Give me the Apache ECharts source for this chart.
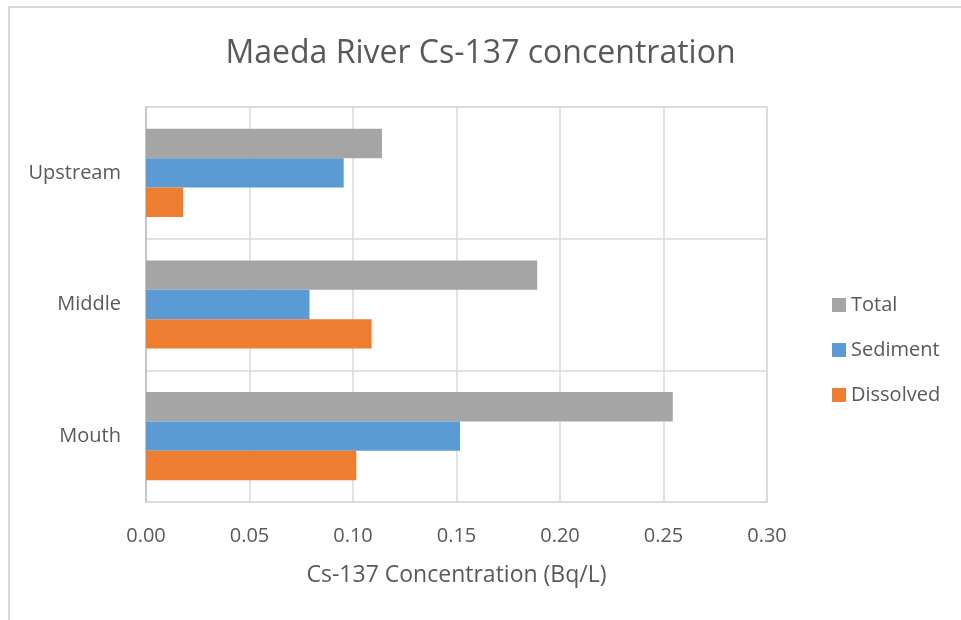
<!DOCTYPE html>
<html>
<head>
<meta charset="utf-8">
<script src="https://cdn.jsdelivr.net/npm/echarts@6/dist/echarts.min.js"></script>
<style>
    html, body { margin: 0; padding: 0; background: #fff; }
    #main { width: 961px; height: 620px; }
</style>
</head>
<body>
<div id="main"></div>
<script>
// data
var categories = ['Upstream', 'Middle', 'Mouth'];
var totalValues = [0.114, 0.189, 0.2545];
var sedimentValues = [0.0955, 0.079, 0.1517];
var dissolvedValues = [0.018, 0.109, 0.1016];
var xTicks = [0, 0.05, 0.10, 0.15, 0.20, 0.25, 0.30];

var font = 'Open Sans';
var textColor = '#595959';

var myChart = echarts.init(document.getElementById('main'));
var option = {
    backgroundColor: '#fff',
    animation: false,
    title: {
        text: 'Maeda River Cs-137 concentration',
        left: 'center',
        top: 33,
        textStyle: {
            color: textColor,
            fontFamily: font,
            fontWeight: 'normal',
            fontSize: 32
        }
    },
    // chart frame, cut off at right and bottom like the picture
    graphic: [{
        type: 'polyline',
        shape: { points: [[9, 640], [9, 7], [980, 7]] },
        style: { stroke: '#d9d9d9', lineWidth: 2, fill: null },
        silent: true
    }],
    legend: {
        orient: 'vertical',
        left: 827,
        top: 290,
        itemWidth: 14,
        itemHeight: 14,
        itemGap: 25,
        icon: 'rect',
        data: ['Total', 'Sediment', 'Dissolved'],
        textStyle: {
            color: textColor,
            fontFamily: font,
            fontSize: 20
        }
    },
    grid: {
        left: 146,
        right: 194,
        top: 107,
        bottom: 118,
        show: true,
        borderColor: '#d9d9d9',
        borderWidth: 1.5
    },
    xAxis: {
        type: 'value',
        min: xTicks[0],
        max: xTicks[xTicks.length - 1],
        interval: 0.05,
        name: 'Cs-137 Concentration (Bq/L)',
        nameLocation: 'middle',
        nameGap: 62,
        nameTextStyle: {
            color: textColor,
            fontFamily: font,
            fontSize: 23
        },
        axisLine: { show: false },
        axisTick: { show: false },
        splitLine: { lineStyle: { color: '#d9d9d9', width: 1.5 } },
        axisLabel: {
            color: textColor,
            fontFamily: font,
            fontSize: 20,
            margin: 24,
            formatter: function (v) { return v.toFixed(2); }
        }
    },
    yAxis: {
        type: 'category',
        inverse: true,
        data: categories,
        axisLine: { lineStyle: { color: '#bfbfbf', width: 1.5 } },
        axisTick: { show: false },
        splitLine: { show: true, lineStyle: { color: '#d9d9d9', width: 1.5 } },
        axisLabel: {
            color: textColor,
            fontFamily: font,
            fontSize: 20,
            margin: 25
        }
    },
    series: [
        {
            name: 'Total',
            type: 'bar',
            data: totalValues,
            barGap: '0%',
            barCategoryGap: '33%',
            itemStyle: { color: '#a5a5a5' }
        },
        {
            name: 'Sediment',
            type: 'bar',
            data: sedimentValues,
            itemStyle: { color: '#5b9bd5' }
        },
        {
            name: 'Dissolved',
            type: 'bar',
            data: dissolvedValues,
            itemStyle: { color: '#ed7d31' }
        }
    ]
};

myChart.setOption(option);
</script>
</body>
</html>
